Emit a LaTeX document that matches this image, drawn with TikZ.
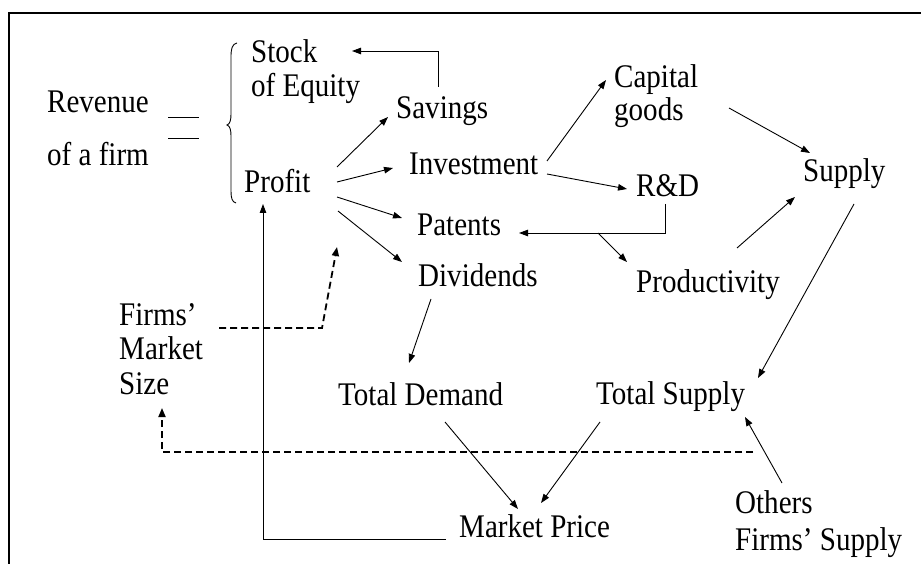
\documentclass[tikz,border=0pt]{standalone}
\usepackage{fontspec}
\setmainfont[FakeStretch=0.88]{Liberation Serif}
\usetikzlibrary{arrows.meta,calc}
\tikzset{
  lbl/.style={anchor=base west,inner sep=0pt,font=\fontsize{33}{38}\selectfont},
  arr/.style={line width=0.9pt,-{Triangle[length=9pt,width=6.5pt]}},
  plain/.style={line width=0.9pt},
  dasharr/.style={line width=1.8pt,dash pattern=on 7pt off 4pt,-{Triangle[length=9pt,width=7pt]}},
}
\begin{document}
\begin{tikzpicture}[x=1pt,y=-1pt]
\useasboundingbox (0,0) rectangle (921,564);
% frame
\draw[line width=2.3pt] (9,564) -- (9,13) -- (921,13);
% texts
\node[lbl] (revenue) at (47,113) {Revenue};
\node[lbl] (ofafirm) at (47,166) {of a firm};
\node[lbl] (stock) at (251,63) {Stock};
\node[lbl] (equity) at (251,97) {of Equity};
\node[lbl] (profit) at (244,193) {Profit};
\node[lbl] (savings) at (396,119) {Savings};
\node[lbl] (investment) at (409,175) {Investment};
\node[lbl] (patents) at (417,236) {Patents};
\node[lbl] (dividends) at (418,287) {Dividends};
\node[lbl] (capital) at (614,88) {Capital};
\node[lbl] (goods) at (614,121) {goods};
\node[lbl] (rd) at (636,197) {R\&D};
\node[lbl] (supply) at (803,182) {Supply};
\node[lbl] (productivity) at (636,292) {Productivity};
\node[lbl] (firms) at (119,325) {Firms’};
\node[lbl] (market) at (119,359) {Market};
\node[lbl] (size) at (119,394) {Size};
\node[lbl] (tdemand) at (338,405) {Total Demand};
\node[lbl] (tsupply) at (596,404) {Total Supply};
\node[lbl] (price) at (459,537) {Market Price};
\node[lbl] (others) at (735,513) {Others};
\node[lbl] (ofsupply) at (735,550) {Firms’ Supply};
% equals sign
\draw[plain] (168,117) -- (199,117);
\draw[plain] (168,138) -- (199,138);
% brace
\draw[plain] (237,43) .. controls (232,44) and (231,49) .. (231,57) -- (231,114)
  .. controls (231,120) and (230,124) .. (227,125)
  .. controls (230,126) and (231,130) .. (231,136) -- (231,191)
  .. controls (231,198) and (232,202) .. (236,203);
% connectors
\draw[arr] ($(savings.base west)+(42,-32)$) |- ($(stock.base west)+(101,-12)$);
\draw[arr] ($(profit.base west)+(93,-26)$) -- ($(savings.base west)+(-8,-2)$);
\draw[arr] ($(profit.base west)+(93,-11)$) -- ($(investment.base west)+(-16,-7)$);
\draw[arr] ($(profit.base west)+(93,4)$) -- ($(patents.base west)+(-15,-18)$);
\draw[arr] ($(profit.base west)+(94,18)$) -- ($(dividends.base west)+(-16,-25)$);
\draw[arr] ($(investment.base west)+(138,-14)$) -- ($(capital.base west)+(-8,-8)$);
\draw[arr] ($(investment.base west)+(138,-1)$) -- ($(rd.base west)+(-9,-8)$);
\draw[arr] ($(goods.base west)+(115,-13)$) -- ($(supply.base west)+(7,-29)$);
\draw[arr] ($(productivity.base west)+(101,-44)$) -- ($(supply.base west)+(-8,15)$);
\draw[arr] ($(rd.base west)+(29,7)$) |- ($(patents.base west)+(102,-3)$);
\coordinate (branch) at ($(patents.base west)+(181,-3)$);
\draw[arr] (branch) -- ($(productivity.base west)+(-9,-30)$);
\draw[arr] ($(supply.base west)+(51,22)$) -- ($(tsupply.base west)+(162,-26)$);
\draw[arr] ($(dividends.base west)+(13,12)$) -- ($(tdemand.base west)+(71,-42)$);
\draw[arr] ($(tdemand.base west)+(107,17)$) -- ($(price.base west)+(59,-28)$);
\draw[arr] ($(tsupply.base west)+(4,18)$) -- ($(price.base west)+(82,-34)$);
\draw[arr] ($(others.base west)+(47,-30)$) -- ($(tsupply.base west)+(149,13)$);
\draw[arr] ($(price.base west)+(-13,2)$) -| ($(profit.base west)+(19,11)$);
% dashed
\coordinate (fbend) at ($(firms.base west)+(203,3)$);
\draw[dasharr] ($(firms.base west)+(100,3)$) -- (fbend) -- ($(profit.base west)+(93,54)$);
\draw[dasharr] ($(tsupply.base west)+(157,48)$) -| ($(size.base west)+(43,14)$);
\end{tikzpicture}
\end{document}
